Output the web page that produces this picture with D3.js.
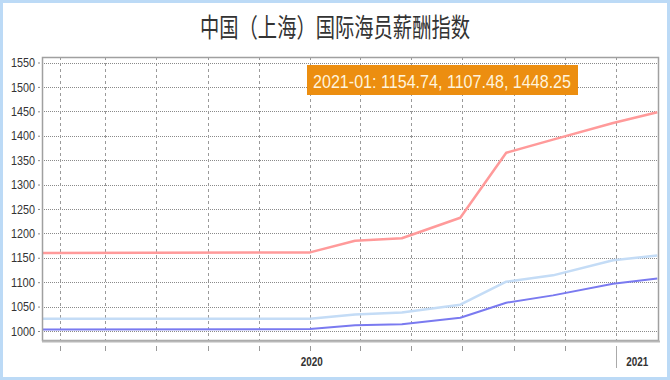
<!DOCTYPE html>
<html><head><meta charset="utf-8">
<script src="https://cdn.jsdelivr.net/npm/d3@7/dist/d3.min.js"></script>
<style>html,body{margin:0;padding:0;background:#fff;}svg{display:block;}</style>
</head><body><svg id="c" width="670" height="380"></svg>
<script>
const title = "中国（上海）国际海员薪酬指数";
const dates = ["2019-02-14","2020-01-01","2020-02-24","2020-04-20","2020-06-29","2020-08-23","2020-10-18","2020-12-29","2021-02-20"];
const seriesLight = [1025, 1025, 1034, 1038, 1054, 1101, 1114, 1145, 1154.74];
const seriesDark  = [1003, 1004, 1012, 1014, 1027, 1058, 1073, 1097, 1107.48];
const seriesRed   = [1160, 1161, 1185, 1190, 1232, 1365, 1392, 1426, 1448.25];
const yTicks = [1000,1050,1100,1150,1200,1250,1300,1350,1400,1450,1500,1550];
const xTickDates = ["2019-03-08","2019-05-01","2019-07-01","2019-09-01","2019-11-01","2020-01-01","2020-03-01","2020-05-01","2020-07-01","2020-09-01","2020-11-01","2021-01-01"];
const yearLabels = [{label:"2020", date:"2020-01-03"},{label:"2021", date:"2021-01-27"}];
const yearSeparators = ["2021-01-01"];
const tooltipText = "2021-01: 1154.74, 1107.48, 1448.25";

const parse = d3.timeParse("%Y-%m-%d");
const svg = d3.select("#c");
const L = 42, R = 659, T = 57, B = 341;

const x = d3.scaleTime().domain([parse("2019-02-14"), parse("2021-02-22")]).range([L, R]);
const y = d3.scaleLinear().domain([1000, 1550]).range([331, 62.5]);

// outer border
svg.append("rect").attr("x",1.5).attr("y",1.5).attr("width",667).attr("height",377)
  .attr("fill","#fff").attr("stroke","#bcdaf6").attr("stroke-width",3);

// title
svg.append("text").attr("x",335).attr("y",37).attr("text-anchor","middle")
  .attr("font-family","'Noto Sans CJK SC', sans-serif").attr("font-size",26)
  .attr("fill","#333").attr("textLength",270).attr("lengthAdjust","spacingAndGlyphs")
  .text(title);

// horizontal dotted gridlines
svg.append("g").selectAll("line").data(yTicks).join("line")
  .attr("x1",L).attr("x2",R).attr("y1",d=>Math.round(y(d))+0.5).attr("y2",d=>Math.round(y(d))+0.5)
  .attr("stroke","#8a8a8a").attr("stroke-width",1).attr("stroke-dasharray","1,1");

// vertical dashed gridlines
const xt = xTickDates.map(parse);
svg.append("g").selectAll("line").data(xt).join("line")
  .attr("x1",d=>Math.round(x(d))+0.5).attr("x2",d=>Math.round(x(d))+0.5).attr("y1",T).attr("y2",B)
  .attr("stroke","#9a9a9a").attr("stroke-width",1).attr("stroke-dasharray","3,3");

// y axis labels (via d3 axis)
const yAxis = d3.axisLeft(y).tickValues(yTicks).tickFormat(d3.format("d")).tickSize(2).tickPadding(3);
const ga = svg.append("g").attr("transform",`translate(${L-2},0)`).call(yAxis);
ga.select(".domain").remove();
ga.selectAll(".tick line").attr("stroke","#888");
ga.selectAll(".tick text").attr("font-family","'Liberation Sans Narrow','Liberation Sans',sans-serif")
  .attr("font-size",13).attr("fill","#333").attr("textLength",24).attr("lengthAdjust","spacingAndGlyphs");

// x ticks below axis
svg.append("g").selectAll("line").data(xt).join("line")
  .attr("x1",d=>Math.round(x(d))+0.5).attr("x2",d=>Math.round(x(d))+0.5).attr("y1",346).attr("y2",351)
  .attr("stroke","#999").attr("stroke-width",1);
svg.append("g").selectAll("line").data(yearSeparators.map(parse)).join("line")
  .attr("x1",d=>Math.round(x(d))+0.5).attr("x2",d=>Math.round(x(d))+0.5).attr("y1",346).attr("y2",368)
  .attr("stroke","#aaa").attr("stroke-width",1);
svg.append("g").selectAll("text").data(yearLabels).join("text")
  .attr("x",d=>x(parse(d.date))).attr("y",366).attr("text-anchor","middle")
  .attr("font-family","'Liberation Sans Narrow','Liberation Sans',sans-serif").attr("font-weight","bold")
  .attr("font-size",12).attr("fill","#333").attr("textLength",22).attr("lengthAdjust","spacingAndGlyphs")
  .text(d=>d.label);

// lines
const line = d3.line().x(d=>x(d[0])).y(d=>y(d[1]));
const pd = dates.map(parse);
const series = [
  {vals: seriesLight, color:"#c4dcf6", w:2.5},
  {vals: seriesDark, color:"#7a7af0", w:2},
  {vals: seriesRed, color:"#ff9a9a", w:2.5}
];
svg.append("g").selectAll("path").data(series).join("path")
  .attr("d",s=>line(pd.map((d,i)=>[d,s.vals[i]])))
  .attr("fill","none").attr("stroke",s=>s.color).attr("stroke-width",s=>s.w)
  .attr("stroke-linejoin","round");

// frame
svg.append("rect").attr("x",L+0.5).attr("y",T+0.5).attr("width",R-L-1).attr("height",B-T-1)
  .attr("fill","none").attr("stroke","#a0a0a0").attr("stroke-width",1.5);
svg.append("line").attr("x1",L).attr("x2",R+1).attr("y1",B+0.5).attr("y2",B+0.5)
  .attr("stroke","#b8b8b8").attr("stroke-width",2);

// tooltip
svg.append("rect").attr("x",307).attr("y",65).attr("width",271).attr("height",30).attr("fill","#ec8e10");
svg.append("text").attr("x",313).attr("y",88).attr("font-family","'Liberation Sans Narrow','Liberation Sans',sans-serif")
  .attr("font-size",19).attr("fill","#fff4dc").attr("textLength",258).attr("lengthAdjust","spacingAndGlyphs")
  .text(tooltipText);
</script></body></html>
